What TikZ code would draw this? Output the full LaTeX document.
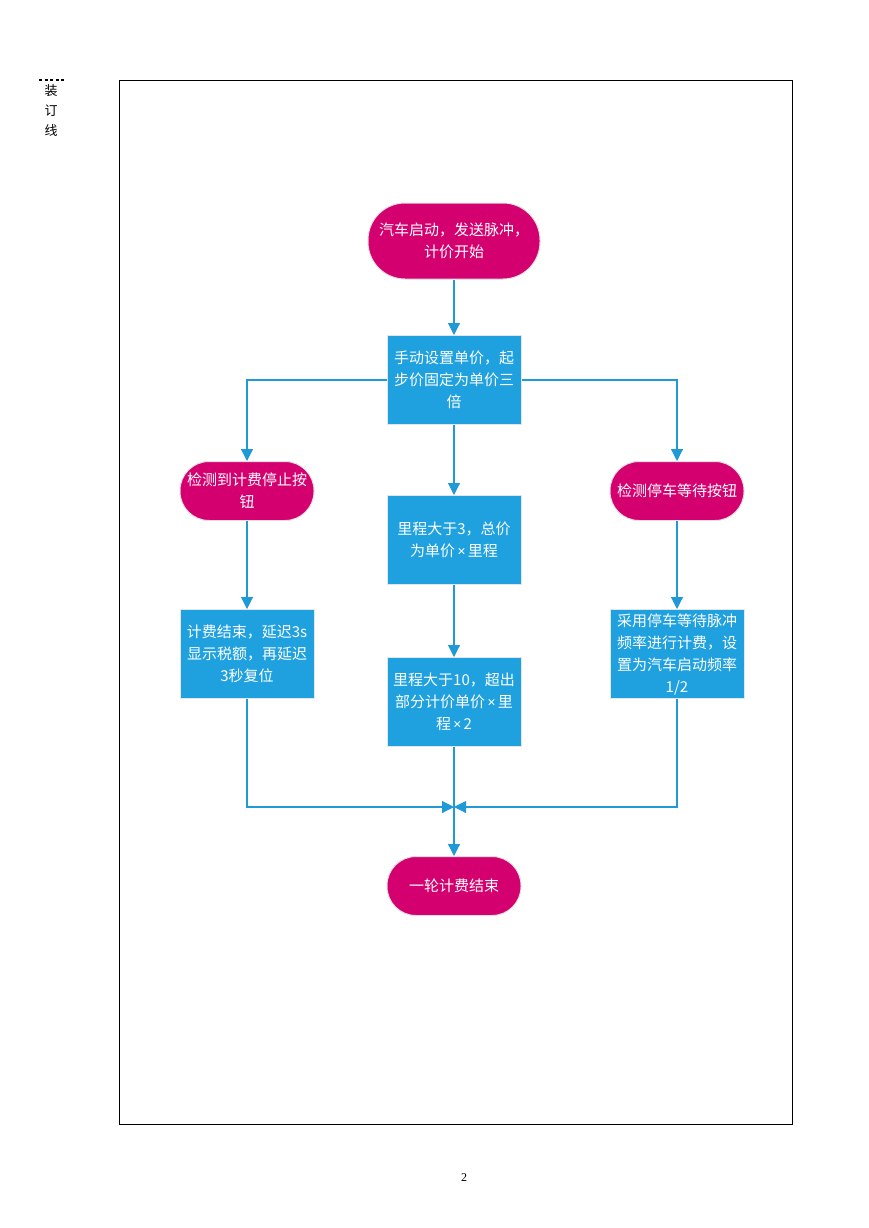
\documentclass[tikz,border=0pt]{standalone}
\usepackage{fontspec}
\setmainfont{Liberation Serif}
\newfontfamily\cjk{Noto Sans CJK SC}
\newfontfamily\latsans{Noto Sans}
\newcommand{\mulx}{{\latsans\fontsize{14}{22}\selectfont\,×\,}}
\usetikzlibrary{arrows.meta}
\definecolor{termc}{HTML}{D5006F}
\definecolor{boxc}{HTML}{1FA1E0}
\definecolor{linec}{HTML}{1F9AD6}
\tikzset{
  term/.style={draw=black!12, line width=1pt, fill=termc, rounded corners=29pt,
    minimum width=134pt, minimum height=59pt, text=white, align=center, inner sep=0pt,
    font=\cjk\fontsize{15}{22}\selectfont},
  proc/.style={draw=black!10, line width=1pt, fill=boxc,
    minimum width=134pt, minimum height=89pt, text=white, align=center, inner sep=0pt,
    font=\cjk\fontsize{15}{22}\selectfont},
  conn/.style={draw=linec, line width=1.1pt, -{Triangle[length=12pt,width=12pt]}}
}
\begin{document}
\begin{tikzpicture}[x=1pt,y=-1pt]
\path[use as bounding box] (0,0) rectangle (869,1228);
% page frame
\draw[line width=0.8pt] (119,80) rectangle (792,1124);
\draw[line width=2pt, dash pattern=on 3pt off 2.6pt] (39,80) -- (66,80);
\node[font=\cjk\fontsize{13}{20}\selectfont, align=center, inner sep=0pt, anchor=north] (bind) at (51,84) {装\\订\\线};
\node[font=\fontsize{12}{14}\selectfont, inner sep=0pt] (pnum) at (464,1178) {2};
% nodes
\node[term, minimum width=172pt, minimum height=76pt, rounded corners=37pt] (start) at (454,241) {汽车启动，发送脉冲，\\计价开始};
\node[proc] (b1) at (454,380) {手动设置单价，起\\步价固定为单价三\\倍};
\node[term] (lt) at (247,491) {检测到计费停止按\\钮};
\node[term] (rt) at (677,491) {检测停车等待按钮};
\node[proc] (b2) at (454,540) {里程大于3，总价\\为单价\mulx 里程};
\node[proc] (lb) at (247,654) {计费结束，延迟3s\\显示税额，再延迟\\3秒复位};
\node[proc] (b3) at (454,702) {里程大于10，超出\\部分计价单价\mulx 里\\程\mulx 2};
\node[proc] (rb) at (677,654) {采用停车等待脉冲\\频率进行计费，设\\置为汽车启动频率\\1/2};
\node[term] (end) at (454,886) {一轮计费结束};
\coordinate (join) at (454,807);
% connectors
\draw[conn] (start) -- (b1);
\draw[conn] (b1.west) -| (lt.north);
\draw[conn] (b1.east) -| (rt.north);
\draw[conn] (b1) -- (b2);
\draw[conn] (b2) -- (b3);
\draw[conn] (lt) -- (lb);
\draw[conn] (rt) -- (rb);
\draw[conn] (lb.south) |- (join);
\draw[conn] (rb.south) |- (join);
\draw[conn] (b3.south) -- (end.north);
\end{tikzpicture}
\end{document}
